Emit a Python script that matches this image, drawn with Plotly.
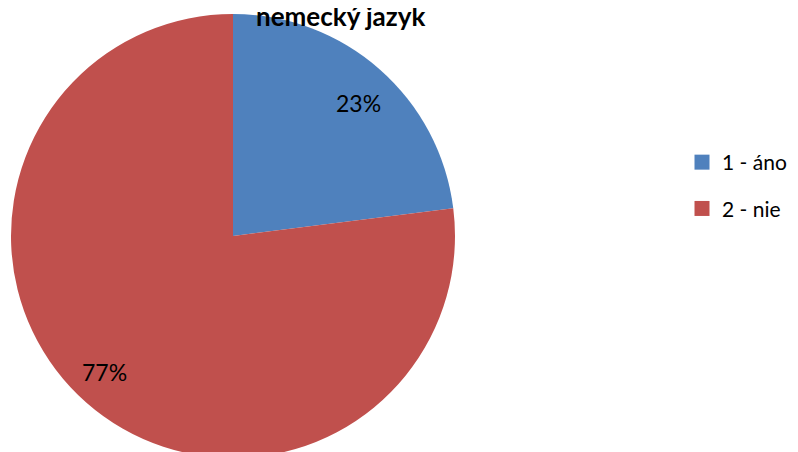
import plotly.graph_objects as go

labels = ["1 - áno", "2 - nie"]
values = [23, 77]
colors = ["#4F81BD", "#C0504D"]
pct_text = ["23%", "77%"]
title = "nemecký jazyk"

W, H = 798, 452
R = 222
cx, cy = 225, 228  # pie centre in figure pixels (from top-left)

fig = go.Figure()
fig.add_trace(go.Pie(
    labels=labels, values=values, sort=False, direction="clockwise", rotation=0,
    marker=dict(colors=colors, line=dict(width=0)),
    textinfo="none", hoverinfo="label+percent", showlegend=False,
    domain=dict(x=[(cx - R) / W, (cx + R) / W],
                y=[(H - cy - R) / H, (H - cy + R) / H]),
))
for i, (lab, col) in enumerate(zip(labels, colors)):
    fig.add_trace(go.Scatter(
        x=[None], y=[None], mode="markers", name=lab, legendgroup=f"g{i}",
        marker=dict(symbol="square", size=15, color=col),
    ))

# percent labels
label_pos = [(350, 95), (96, 364)]
for t, (px, py) in zip(pct_text, label_pos):
    fig.add_annotation(x=px / W, y=1 - py / H, xref="paper", yref="paper",
                       text=t, showarrow=False, xanchor="center", yanchor="middle",
                       font=dict(family="Lato, Carlito, sans-serif", size=23, color="#000000"))

fig.add_annotation(x=332.5 / W, y=1 - 26 / H, xref="paper", yref="paper",
                   text=f"<b>{title}</b>", showarrow=False, xanchor="center", yanchor="bottom",
                   font=dict(family="Lato, Carlito, sans-serif", size=26, color="#000000"))

fig.update_layout(
    width=W, height=H, margin=dict(l=0, r=0, t=0, b=0),
    paper_bgcolor="white", plot_bgcolor="white",
    xaxis=dict(visible=False), yaxis=dict(visible=False),
    showlegend=True,
    legend=dict(x=674 / W, y=1 - 134 / H, xanchor="left", yanchor="top",
                tracegroupgap=16, font=dict(family="Lato, Carlito, sans-serif", size=21, color="#000000"),
                bgcolor="rgba(0,0,0,0)"),
)
fig.write_html("out.html")
